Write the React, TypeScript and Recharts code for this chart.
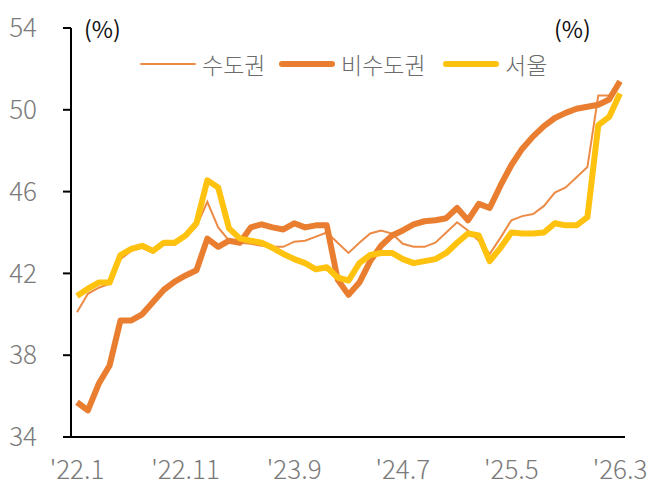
import { LineChart, Line, XAxis, YAxis } from 'recharts';

// monthly, '22.1 ~ '26.3
const months = [
  "'22.1", "'22.2", "'22.3", "'22.4", "'22.5", "'22.6", "'22.7", "'22.8", "'22.9", "'22.10",
  "'22.11", "'22.12", "'23.1", "'23.2", "'23.3", "'23.4", "'23.5", "'23.6", "'23.7", "'23.8",
  "'23.9", "'23.10", "'23.11", "'23.12", "'24.1", "'24.2", "'24.3", "'24.4", "'24.5", "'24.6",
  "'24.7", "'24.8", "'24.9", "'24.10", "'24.11", "'24.12", "'25.1", "'25.2", "'25.3", "'25.4",
  "'25.5", "'25.6", "'25.7", "'25.8", "'25.9", "'25.10", "'25.11", "'25.12", "'26.1", "'26.2",
  "'26.3",
];

const capital = [
  40.1, 41.0, 41.3, 41.5, 42.7, 43.1, 43.25, 43.0, 43.4, 43.4,
  43.8, 44.3, 45.5, 44.25, 43.6, 43.5, 43.45, 43.35, 43.3, 43.3,
  43.55, 43.6, 43.8, 44.0, 43.5, 43.0, 43.5, 43.95, 44.1, 43.95,
  43.45, 43.3, 43.3, 43.5, 44.0, 44.5, 44.1, 43.6, 42.95, 43.75,
  44.6, 44.8, 44.9, 45.3, 45.95, 46.2, 46.7, 47.2, 50.7, 50.7,
  51.3,
];

const nonCapital = [
  35.7, 35.3, 36.6, 37.5, 39.7, 39.7, 40.0, 40.6, 41.2, 41.6,
  41.9, 42.15, 43.7, 43.3, 43.6, 43.5, 44.25, 44.4, 44.25, 44.15,
  44.45, 44.25, 44.35, 44.35, 41.7, 40.95, 41.55, 42.6, 43.35, 43.85,
  44.1, 44.4, 44.55, 44.6, 44.7, 45.2, 44.6, 45.4, 45.2, 46.3,
  47.3, 48.1, 48.7, 49.2, 49.6, 49.85, 50.05, 50.15, 50.25, 50.5,
  51.4,
];

const seoul = [
  40.9, 41.25, 41.55, 41.55, 42.9, 43.2, 43.35, 43.1, 43.5, 43.5,
  43.85, 44.45, 46.55, 46.2, 44.2, 43.7, 43.6, 43.5, 43.25, 42.95,
  42.7, 42.5, 42.2, 42.3, 41.8, 41.65, 42.5, 42.9, 43.0, 43.0,
  42.7, 42.5, 42.6, 42.7, 43.0, 43.5, 43.95, 43.85, 42.6, 43.25,
  44.0, 43.95, 43.95, 44.0, 44.45, 44.35, 44.35, 44.75, 49.25, 49.65,
  50.8,
];

const yTicks = [34, 38, 42, 46, 50, 54];

const data = months.map((m, i) => ({
  month: m,
  capital: capital[i],
  nonCapital: nonCapital[i],
  seoul: seoul[i],
}));

const FONT = '"Noto Sans CJK KR", "Noto Sans", sans-serif';
const GRAY = '#7a7a7a';

const legendItems = [
  { name: '수도권', color: '#EC8B45', width: 2, left: 140 },
  { name: '비수도권', color: '#E97E31', width: 6, left: 279 },
  { name: '서울', color: '#FFC20E', width: 6, left: 443 },
];

const App = () => {
  return (
    <div style={{ position: 'absolute', left: 0, top: 0, width: 656, height: 490, background: '#fff', fontFamily: FONT }}>
      <LineChart
        width={656}
        height={490}
        data={data}
        margin={{ top: 28, right: 31, left: 0, bottom: 0 }}
      >
        <XAxis
          dataKey="month"
          interval={9}
          tickLine={false}
          tickSize={0}
          tickMargin={24}
          height={53}
          padding={{ left: 6, right: 5 }}
          axisLine={{ stroke: '#000', strokeWidth: 2 }}
          tick={{ fontSize: 26, fill: GRAY, fontFamily: FONT, fontWeight: 300 }}
        />
        <YAxis
          domain={[34, 54]}
          ticks={yTicks}
          width={71}
          tickSize={8}
          tickMargin={26}
          axisLine={{ stroke: '#000', strokeWidth: 2 }}
          tickLine={{ stroke: '#000', strokeWidth: 2 }}
          tick={{ fontSize: 26, fill: GRAY, fontFamily: FONT, fontWeight: 300 }}
        />
        <Line
          type="linear"
          dataKey="capital"
          name="수도권"
          stroke="#EC8B45"
          strokeWidth={2}
          dot={false}
          isAnimationActive={false}
        />
        <Line
          type="linear"
          dataKey="nonCapital"
          name="비수도권"
          stroke="#E97E31"
          strokeWidth={6}
          strokeLinejoin="round"
          dot={false}
          isAnimationActive={false}
        />
        <Line
          type="linear"
          dataKey="seoul"
          name="서울"
          stroke="#FFC20E"
          strokeWidth={6}
          strokeLinejoin="round"
          dot={false}
          isAnimationActive={false}
        />
      </LineChart>

      <div style={{ position: 'absolute', left: 84, top: 11, fontSize: 23, color: '#111' }}>(%)</div>
      <div style={{ position: 'absolute', left: 554, top: 11, fontSize: 23, color: '#111' }}>(%)</div>

      {legendItems.map((it) => (
        <div
          key={it.name}
          style={{ position: 'absolute', left: it.left, top: 48, height: 32, display: 'flex', alignItems: 'center' }}
        >
          <div style={{ width: 56, height: it.width, background: it.color, borderRadius: it.width / 2 }} />
          <span style={{ marginLeft: 6, fontSize: 23, color: '#6b6b6b', fontWeight: 300 }}>{it.name}</span>
        </div>
      ))}
    </div>
  );
};

export default App;
